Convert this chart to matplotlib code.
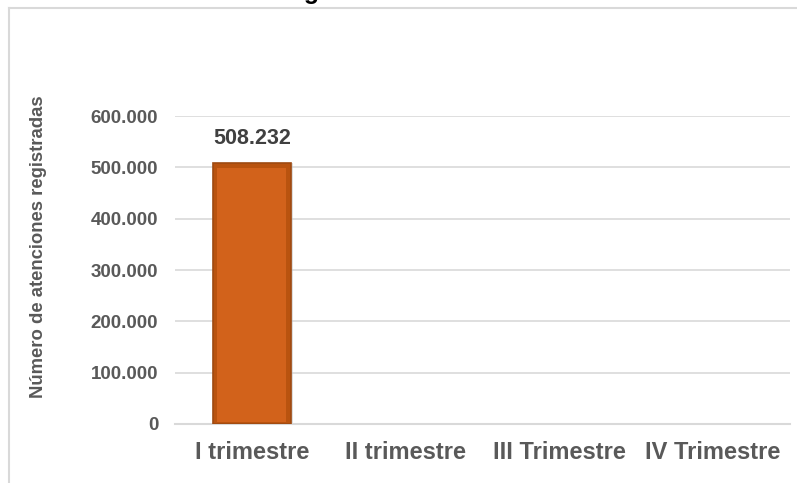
import numpy as np
import matplotlib.pyplot as plt
from matplotlib.lines import Line2D
from matplotlib.ticker import FuncFormatter

plt.rcParams['font.family'] = ['Liberation Sans', 'DejaVu Sans']

# datos
trimestres = ['I trimestre', 'II trimestre', 'III Trimestre', 'IV Trimestre']
atenciones = [508232, 0, 0, 0]
yticks = [0, 100000, 200000, 300000, 400000, 500000, 600000]
titulo = 'N° Atenciones Registradas en el CEM - I Trimestre 2023'

gris = '#595959'

def miles(v, pos=None):
    return f'{int(v):,}'.replace(',', '.')

fig = plt.figure(figsize=(7.97, 4.83), dpi=100)
ax = fig.add_axes([175 / 797, 1 - 424 / 483, 615 / 797, 308 / 483])

x = np.arange(len(trimestres))
mostrar = [i for i, v in enumerate(atenciones) if v > 0]
xs = x[mostrar]
vals = np.array([atenciones[i] for i in mostrar])

# sombra + barra con borde oscuro (efecto bisel aproximado)
ax.bar(xs + 0.012, vals, width=0.51, color='#bdbdbd', alpha=0.5, zorder=2)
ax.bar(xs, vals, width=0.51, color='#B9530F', edgecolor='#9E4A12', linewidth=1.2, zorder=3)
ax.bar(xs, vals * 0.975, width=0.45, bottom=vals * 0.008,
       color='#D2621B', edgecolor='none', zorder=4)

for xi, v in zip(xs, vals):
    ax.annotate(miles(v), (xi, v), xytext=(0, 10), textcoords='offset points',
                ha='center', va='bottom', fontsize=15.5, fontweight='bold', color='#404040')

ax.set_xlim(-0.5, len(trimestres) - 0.5)
ax.set_ylim(0, 600000)
ax.set_yticks(yticks)
ax.yaxis.set_major_formatter(FuncFormatter(miles))
ax.set_xticks(x)
ax.set_xticklabels(trimestres)

ax.grid(axis='y', color='#D9D9D9', linewidth=1.2, zorder=0)
ax.set_axisbelow(True)
for s in ['top', 'right', 'left']:
    ax.spines[s].set_visible(False)
ax.spines['bottom'].set_color('#D9D9D9')
ax.spines['bottom'].set_linewidth(1.5)

ax.tick_params(axis='y', length=0, pad=12, labelsize=13.5, labelcolor=gris)
ax.tick_params(axis='x', length=0, pad=12, labelsize=17, labelcolor=gris)
for t in ax.get_xticklabels() + ax.get_yticklabels():
    t.set_fontweight('bold')

fig.text(39 / 797, 1 - 247 / 483, 'Número de atenciones registradas', rotation=90,
         ha='center', va='center', fontsize=13.3, fontweight='bold', color=gris)

# titulo cortado en la parte superior (como en el original)
fig.text(424 / 797, 1 + 1 / 483, titulo, ha='center', va='baseline',
         fontsize=18, fontweight='bold', color='black')

# borde del area del grafico
fig.add_artist(Line2D([8.5 / 797, 1], [1 - 7.5 / 483, 1 - 7.5 / 483],
                      transform=fig.transFigure, color='#D9D9D9', linewidth=1.5))
fig.add_artist(Line2D([8.5 / 797, 8.5 / 797], [0, 1 - 7.5 / 483],
                      transform=fig.transFigure, color='#D9D9D9', linewidth=1.5))

fig.savefig('out.png', dpi=100)
